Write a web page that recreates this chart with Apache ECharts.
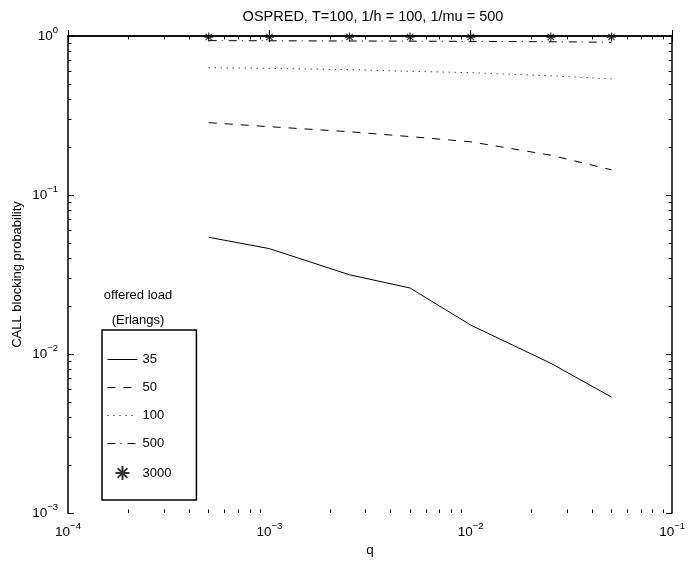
<!DOCTYPE html>
<html>
<head>
<meta charset="utf-8">
<script src="https://cdn.jsdelivr.net/npm/echarts@6/dist/echarts.min.js"></script>
<style>
html,body{margin:0;padding:0;background:#fff;}
#chart{width:688px;height:564px;}
</style>
</head>
<body>
<div id="chart"></div>
<script>
// ---- data ----
var qValues = [5e-4, 1e-3, 2.5e-3, 5e-3, 1e-2, 2.5e-2, 5e-2];
var load35   = [0.0542, 0.0460, 0.0315, 0.0260, 0.0152, 0.00874, 0.00536];
var load50   = [0.285, 0.269, 0.250, 0.233, 0.216, 0.178, 0.144];
var load100  = [0.632, 0.626, 0.614, 0.600, 0.588, 0.562, 0.537];
var load500  = [0.935, 0.933, 0.930, 0.928, 0.925, 0.920, 0.913];
var load3000 = [0.985, 0.985, 0.985, 0.985, 0.985, 0.985, 0.985];
var seriesNames = ['35', '50', '100', '500', '3000'];
var titleText = 'OSPRED, T=100, 1/h = 100, 1/mu = 500';
var xName = 'q';
var yName = 'CALL blocking probability';
var legendTitle = 'offered load\n(Erlangs)';

function pairs(ys) { return qValues.map(function (q, i) { return [q, ys[i]]; }); }
function minorLogs(lo, hi) {
  var out = [];
  for (var d = lo; d < hi; d++) for (var k = 2; k <= 9; k++) out.push(d + Math.log10(k));
  return out;
}

var FONT = 'Liberation Sans, Arial, Helvetica, sans-serif';
var labelRich = {
  b: { fontSize: 13.5, fontFamily: FONT, color: '#000' },
  s: { fontSize: 9.5, fontFamily: FONT, color: '#000', padding: [0, 0, 12, 0] }
};
function powLabel(v) {
  var e = Math.round(Math.log10(v));
  return '{b|10}{s|' + (e < 0 ? '\u2212' + (-e) : e) + '}';
}

var axisLineStyle = { show: true, lineStyle: { color: '#000', width: 1.5 } };
var majorTick = { show: true, inside: true, length: 6, lineStyle: { color: '#000', width: 1 } };
var minorTickStyle = { show: true, inside: true, length: 3.5, lineStyle: { color: '#000', width: 1 } };

var starPath = 'path://M5,0L5,10M0,5L10,5M1.5,1.5L8.5,8.5M8.5,1.5L1.5,8.5';
var clear = 'rgba(0,0,0,0)';

var chart = echarts.init(document.getElementById('chart'), null, { renderer: 'canvas' });
var option = {
  backgroundColor: '#fff',
  animation: false,
  textStyle: { fontFamily: FONT },
  title: [
    { text: titleText, left: 368, top: 4, textAlign: 'center',
      textStyle: { fontSize: 14.5, fontWeight: 'normal', color: '#000', fontFamily: FONT } },
    { text: legendTitle, left: 133, top: 278, textAlign: 'center',
      textStyle: { fontSize: 13, fontWeight: 'normal', color: '#000', fontFamily: FONT, lineHeight: 25, align: 'center' } }
  ],
  grid: { left: 68, right: 15, top: 36, bottom: 51, containLabel: false },
  xAxis: [
    { type: 'log', logBase: 10, min: 1e-4, max: 1e-1, position: 'bottom',
      axisLine: axisLineStyle, axisTick: majorTick, splitLine: { show: false },
      axisLabel: { formatter: powLabel, rich: labelRich, margin: 8, color: '#000' },
      name: xName, nameLocation: 'middle', nameGap: 30, nameMoveOverlap: false,
      nameTextStyle: { fontSize: 13.5, color: '#000', fontFamily: FONT } },
    { type: 'log', logBase: 10, min: 1e-4, max: 1e-1, position: 'top',
      axisLine: axisLineStyle, axisTick: majorTick, splitLine: { show: false }, axisLabel: { show: false } },
    { type: 'value', min: -4, max: -1, position: 'bottom',
      axisLine: { show: false }, splitLine: { show: false }, axisLabel: { show: false },
      axisTick: Object.assign({ customValues: minorLogs(-4, -1) }, minorTickStyle) },
    { type: 'value', min: -4, max: -1, position: 'top',
      axisLine: { show: false }, splitLine: { show: false }, axisLabel: { show: false },
      axisTick: Object.assign({ customValues: minorLogs(-4, -1) }, minorTickStyle) }
  ],
  yAxis: [
    { type: 'log', logBase: 10, min: 1e-3, max: 1, position: 'left',
      axisLine: axisLineStyle, axisTick: majorTick, splitLine: { show: false },
      axisLabel: { formatter: powLabel, rich: labelRich, margin: 10, color: '#000' },
      name: yName, nameLocation: 'middle', nameGap: 44, nameRotate: 90, nameMoveOverlap: false,
      nameTextStyle: { fontSize: 13, color: '#000', fontFamily: FONT } },
    { type: 'log', logBase: 10, min: 1e-3, max: 1, position: 'right',
      axisLine: axisLineStyle, axisTick: majorTick, splitLine: { show: false }, axisLabel: { show: false } },
    { type: 'value', min: -3, max: 0, position: 'left',
      axisLine: { show: false }, splitLine: { show: false }, axisLabel: { show: false },
      axisTick: Object.assign({ customValues: minorLogs(-3, 0) }, minorTickStyle) },
    { type: 'value', min: -3, max: 0, position: 'right',
      axisLine: { show: false }, splitLine: { show: false }, axisLabel: { show: false },
      axisTick: Object.assign({ customValues: minorLogs(-3, 0) }, minorTickStyle) }
  ],
  legend: {
    orient: 'vertical', left: 102, top: 330,
    data: seriesNames,
    backgroundColor: '#fff', borderColor: '#000', borderWidth: 1.5,
    padding: [23, 25, 19, 5],
    itemWidth: 30, itemHeight: 14, itemGap: 15,
    lineStyle: { width: 1 },
    textStyle: { fontSize: 13, color: '#000', fontFamily: FONT }
  },
  series: [
    { name: seriesNames[0], type: 'line', data: pairs(load35), symbol: 'none',
      lineStyle: { color: '#000', width: 1, type: 'solid' }, itemStyle: { color: clear, borderColor: clear } },
    { name: seriesNames[1], type: 'line', data: pairs(load50), symbol: 'none',
      lineStyle: { color: '#000', width: 1, type: [8, 8] }, itemStyle: { color: clear, borderColor: clear } },
    { name: seriesNames[2], type: 'line', data: pairs(load100), symbol: 'none',
      lineStyle: { color: '#000', width: 1, type: [1, 5] }, itemStyle: { color: clear, borderColor: clear } },
    { name: seriesNames[3], type: 'line', data: pairs(load500), symbol: 'none',
      lineStyle: { color: '#000', width: 1, type: [8, 5, 1, 6] }, itemStyle: { color: clear, borderColor: clear } },
    { name: seriesNames[4], type: 'scatter', data: pairs(load3000), symbol: starPath, symbolSize: 9,
      itemStyle: { color: clear, borderColor: '#000', borderWidth: 1.2 }, clip: false }
  ]
};
chart.setOption(option);
</script>
</body>
</html>
